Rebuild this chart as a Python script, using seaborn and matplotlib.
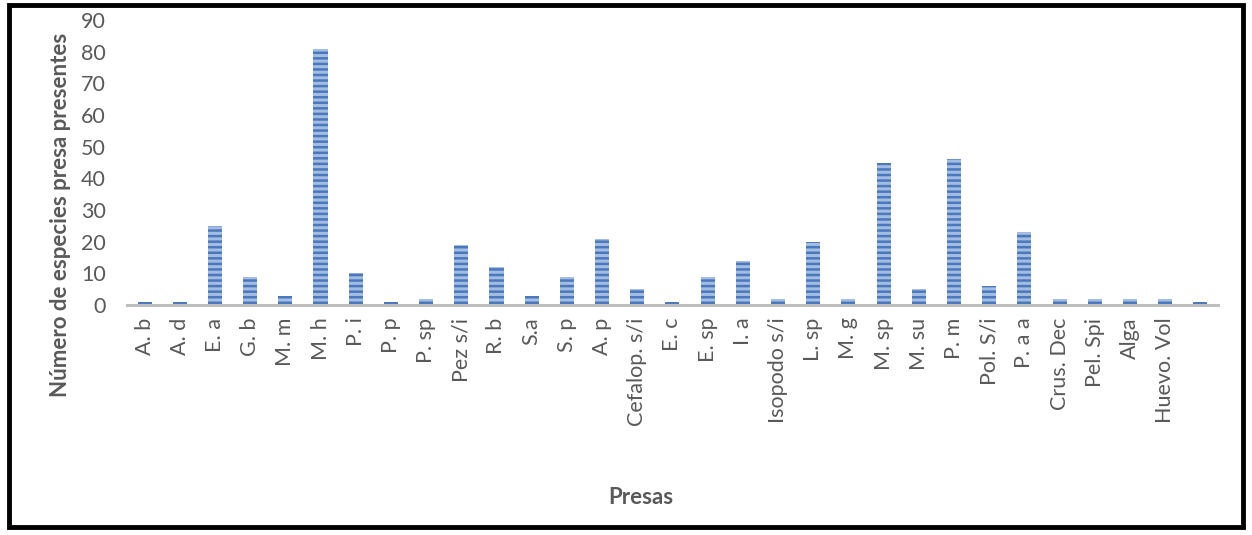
import matplotlib.pyplot as plt
import seaborn as sns
from matplotlib.patches import Rectangle

# Data
presas = ['A. b', 'A. d', 'E. a', 'G. b', 'M. m', 'M. h', 'P. i', 'P. p', 'P. sp',
          'Pez s/i', 'R. b', 'S.a', 'S. p', 'A. p', 'Cefalop. s/i', 'E. c', 'E. sp',
          'I. a', 'Isopodo s/i', 'L. sp', 'M. g', 'M. sp', 'M. su', 'P. m', 'Pol. S/i',
          'P. a a', 'Crus. Dec', 'Pel. Spi', 'Alga', 'Huevo. Vol', '']
numero = [1, 1, 25, 9, 3, 81, 10, 1, 2, 19, 12, 3, 9, 21, 5, 1, 9, 14, 2, 20,
          2, 45, 5, 46, 6, 23, 2, 2, 2, 2, 1]

sns.set_style('white')
plt.rcParams['font.family'] = ['Lato', 'DejaVu Sans']
plt.rcParams['hatch.linewidth'] = 1.8

gray = '#595959'

fig = plt.figure(figsize=(12.52, 5.35), dpi=100)
ax = fig.add_axes([0.1014, 0.4299, 0.8714, 0.5327])

sns.barplot(x=presas, y=numero, color='#a3bce2', width=0.4, ax=ax, saturation=1)
for p in ax.patches:
    p.set_hatch('---')
    p.set_edgecolor('#4a78bd')
    p.set_linewidth(0)

ax.set_ylim(0, 90)
ax.set_xlim(-0.5, len(presas) - 0.5)
ax.set_yticks(range(0, 91, 10))

for s in ['top', 'right', 'left']:
    ax.spines[s].set_visible(False)
ax.spines['bottom'].set_color('#bfbfbf')
ax.spines['bottom'].set_linewidth(2.2)

ax.tick_params(axis='y', length=0, pad=15, labelsize=15.5, labelcolor=gray)
ax.tick_params(axis='x', length=0, pad=9, labelsize=15.5, labelcolor=gray, rotation=90)

ax.set_xlabel('')
ax.set_ylabel('')
fig.text(0.048, 0.598, 'Número de especies presa presentes', rotation=90,
         ha='center', va='center', fontsize=16, fontweight='bold', color=gray)
fig.text(0.512, 0.07, 'Presas', ha='center', va='center',
         fontsize=16, fontweight='bold', color=gray)

# outer frame
fig.patches.append(Rectangle((0.0075, 0.0145), 0.9855, 0.9765, transform=fig.transFigure,
                             fill=False, edgecolor='black', linewidth=3.5))

fig.savefig('out.png', dpi=100)
